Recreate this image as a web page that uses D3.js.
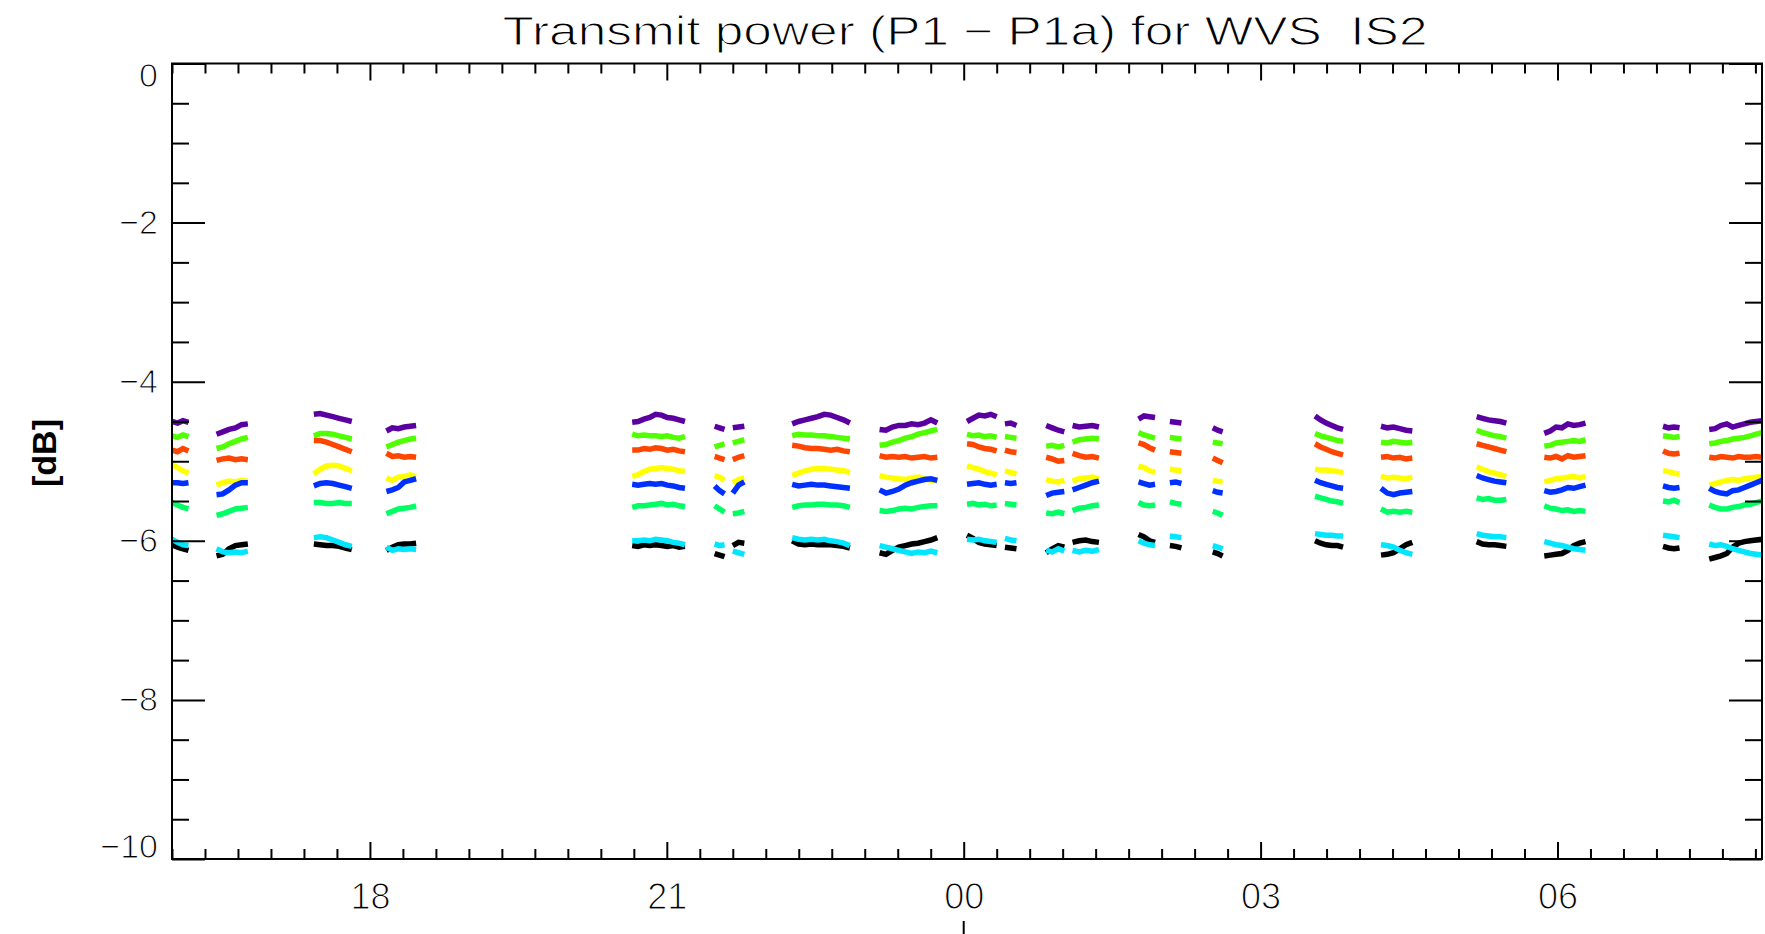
<!DOCTYPE html>
<html>
<head>
<meta charset="utf-8">
<script src="https://cdn.jsdelivr.net/npm/d3@7"></script>
<style>
  html, body { margin: 0; padding: 0; background: #fff; }
  svg { display: block; }
  text { font-family: "Liberation Sans", Arial, sans-serif; fill: #000; }
  /* a white outline painted over the glyphs gives a thin pen-plotter look */
  text.thin { stroke: #fff; stroke-width: 1.1px; }
</style>
</head>
<body>
<svg id="chart" width="1765" height="934"></svg>
<script>
// Pass boundaries (UT clock time; hours before 16 belong to the next day)
const passStart = ["16:00","16:27","17:26","18:10","20:39","21:29","21:40","22:16","23:09","00:02","00:25",
                   "00:50","01:06","01:46","02:05","02:31","03:33","04:13","05:11","05:52","07:04","07:32"];
const passEnd   = ["16:10","16:46","17:49","18:28","21:11","21:35","21:47","22:51","23:44","00:20","00:32",
                   "01:01","01:22","01:56","02:12","02:37","03:50","04:32","05:29","06:17","07:14","08:04"];

// Transmit power differences [dB], one list of samples per pass
const violet = [
  [-4.50,-4.52,-4.49,-4.51],
  [-4.66,-4.63,-4.60,-4.58,-4.54,-4.53],
  [-4.41,-4.40,-4.42,-4.44,-4.46,-4.48,-4.50],
  [-4.62,-4.58,-4.59,-4.57,-4.56,-4.55],
  [-4.51,-4.50,-4.47,-4.45,-4.41,-4.42,-4.45,-4.46,-4.48,-4.50],
  [-4.56,-4.58,-4.60],
  [-4.58,-4.57,-4.56],
  [-4.53,-4.50,-4.48,-4.46,-4.44,-4.41,-4.42,-4.45,-4.48,-4.52],
  [-4.60,-4.61,-4.57,-4.55,-4.55,-4.53,-4.54,-4.52,-4.48,-4.52],
  [-4.50,-4.46,-4.42,-4.43,-4.41,-4.44],
  [-4.53,-4.52,-4.55],
  [-4.55,-4.58,-4.61,-4.63],
  [-4.55,-4.57,-4.56,-4.55,-4.57],
  [-4.47,-4.43,-4.44,-4.45],
  [-4.50,-4.51,-4.52],
  [-4.58,-4.61,-4.63],
  [-4.43,-4.48,-4.52,-4.55,-4.58,-4.60],
  [-4.56,-4.58,-4.57,-4.59,-4.61,-4.62],
  [-4.44,-4.46,-4.48,-4.49,-4.50,-4.52],
  [-4.65,-4.62,-4.57,-4.58,-4.53,-4.55,-4.54,-4.52],
  [-4.56,-4.58,-4.57,-4.58],
  [-4.60,-4.59,-4.55,-4.53,-4.57,-4.55,-4.53,-4.51,-4.50,-4.49]
];
const green = [
  [-4.68,-4.70,-4.67,-4.69],
  [-4.84,-4.82,-4.78,-4.75,-4.72,-4.70],
  [-4.68,-4.65,-4.65,-4.66,-4.68,-4.70,-4.72],
  [-4.82,-4.79,-4.76,-4.74,-4.72,-4.71],
  [-4.66,-4.68,-4.67,-4.68,-4.68,-4.69,-4.68,-4.70,-4.71,-4.69],
  [-4.82,-4.80,-4.78],
  [-4.77,-4.75,-4.73],
  [-4.68,-4.66,-4.67,-4.67,-4.68,-4.68,-4.69,-4.70,-4.71,-4.72],
  [-4.80,-4.79,-4.76,-4.74,-4.71,-4.69,-4.66,-4.64,-4.62,-4.60],
  [-4.66,-4.68,-4.67,-4.69,-4.68,-4.70],
  [-4.69,-4.70,-4.71],
  [-4.81,-4.80,-4.82,-4.80],
  [-4.76,-4.73,-4.72,-4.71,-4.72],
  [-4.64,-4.67,-4.69,-4.71],
  [-4.70,-4.71,-4.72],
  [-4.76,-4.77,-4.78],
  [-4.65,-4.68,-4.70,-4.72,-4.74,-4.75],
  [-4.76,-4.77,-4.75,-4.76,-4.77,-4.76],
  [-4.61,-4.64,-4.66,-4.68,-4.69,-4.71],
  [-4.81,-4.80,-4.77,-4.76,-4.75,-4.74,-4.75,-4.73],
  [-4.68,-4.69,-4.70,-4.69],
  [-4.78,-4.77,-4.75,-4.74,-4.72,-4.71,-4.70,-4.68,-4.66,-4.64]
];
const orange = [
  [-4.86,-4.88,-4.84,-4.87],
  [-4.99,-4.97,-4.96,-4.98,-4.97,-4.98],
  [-4.74,-4.74,-4.76,-4.79,-4.82,-4.85,-4.88],
  [-4.90,-4.94,-4.93,-4.95,-4.94,-4.95],
  [-4.86,-4.86,-4.84,-4.85,-4.83,-4.84,-4.86,-4.85,-4.87,-4.88],
  [-4.94,-4.96,-4.98],
  [-4.98,-4.95,-4.93],
  [-4.80,-4.81,-4.83,-4.84,-4.84,-4.85,-4.86,-4.85,-4.87,-4.88],
  [-4.93,-4.95,-4.94,-4.95,-4.94,-4.96,-4.95,-4.94,-4.96,-4.95],
  [-4.78,-4.79,-4.82,-4.84,-4.85,-4.87],
  [-4.86,-4.88,-4.89],
  [-4.95,-4.97,-5.00,-4.99],
  [-4.90,-4.93,-4.95,-4.94,-4.96],
  [-4.77,-4.79,-4.83,-4.86],
  [-4.88,-4.89,-4.90],
  [-4.96,-4.99,-5.02],
  [-4.78,-4.82,-4.85,-4.88,-4.90,-4.92],
  [-4.95,-4.94,-4.96,-4.95,-4.97,-4.96],
  [-4.78,-4.80,-4.82,-4.84,-4.86,-4.88],
  [-4.95,-4.96,-4.94,-4.97,-4.93,-4.95,-4.94,-4.93],
  [-4.87,-4.90,-4.91,-4.90],
  [-4.95,-4.96,-4.94,-4.95,-4.96,-4.94,-4.95,-4.95,-4.94,-4.95]
];
const yellow = [
  [-5.04,-5.08,-5.12,-5.15],
  [-5.30,-5.27,-5.25,-5.26,-5.24,-5.25],
  [-5.16,-5.10,-5.06,-5.05,-5.06,-5.09,-5.12],
  [-5.21,-5.24,-5.20,-5.19,-5.17,-5.19],
  [-5.19,-5.17,-5.13,-5.10,-5.09,-5.08,-5.09,-5.10,-5.12,-5.13],
  [-5.18,-5.20,-5.24],
  [-5.27,-5.23,-5.21],
  [-5.18,-5.15,-5.12,-5.10,-5.09,-5.09,-5.10,-5.11,-5.12,-5.14],
  [-5.18,-5.20,-5.21,-5.22,-5.23,-5.21,-5.20,-5.22,-5.24,-5.25],
  [-5.06,-5.08,-5.10,-5.13,-5.15,-5.17],
  [-5.12,-5.14,-5.16],
  [-5.23,-5.25,-5.26,-5.24],
  [-5.25,-5.22,-5.21,-5.20,-5.22],
  [-5.06,-5.08,-5.12,-5.14],
  [-5.10,-5.11,-5.12],
  [-5.24,-5.25,-5.26],
  [-5.10,-5.11,-5.11,-5.12,-5.13,-5.14],
  [-5.19,-5.21,-5.20,-5.21,-5.22,-5.20],
  [-5.07,-5.10,-5.13,-5.15,-5.17,-5.19],
  [-5.26,-5.24,-5.22,-5.21,-5.20,-5.19,-5.21,-5.19],
  [-5.12,-5.13,-5.15,-5.16],
  [-5.30,-5.28,-5.26,-5.24,-5.23,-5.24,-5.22,-5.21,-5.20,-5.19]
];
const blue = [
  [-5.27,-5.27,-5.28,-5.27],
  [-5.42,-5.41,-5.36,-5.30,-5.27,-5.27],
  [-5.31,-5.28,-5.27,-5.28,-5.30,-5.32,-5.34],
  [-5.38,-5.36,-5.33,-5.26,-5.24,-5.22],
  [-5.29,-5.30,-5.29,-5.28,-5.29,-5.28,-5.30,-5.31,-5.33,-5.34],
  [-5.31,-5.37,-5.41],
  [-5.40,-5.30,-5.26],
  [-5.29,-5.31,-5.30,-5.29,-5.30,-5.30,-5.31,-5.32,-5.33,-5.34],
  [-5.36,-5.40,-5.38,-5.35,-5.30,-5.27,-5.25,-5.23,-5.22,-5.24],
  [-5.29,-5.28,-5.27,-5.29,-5.30,-5.29],
  [-5.27,-5.28,-5.27],
  [-5.43,-5.40,-5.39,-5.38],
  [-5.36,-5.33,-5.30,-5.27,-5.25],
  [-5.26,-5.28,-5.30,-5.29],
  [-5.27,-5.26,-5.28],
  [-5.37,-5.39,-5.40],
  [-5.24,-5.27,-5.29,-5.31,-5.33,-5.34],
  [-5.34,-5.40,-5.42,-5.40,-5.39,-5.38],
  [-5.18,-5.21,-5.23,-5.25,-5.26,-5.27],
  [-5.37,-5.39,-5.38,-5.36,-5.33,-5.34,-5.32,-5.30],
  [-5.31,-5.33,-5.34,-5.33],
  [-5.34,-5.38,-5.40,-5.41,-5.37,-5.36,-5.33,-5.30,-5.27,-5.24]
];
const springGreen = [
  [-5.52,-5.55,-5.58,-5.60],
  [-5.68,-5.66,-5.63,-5.60,-5.59,-5.58],
  [-5.52,-5.52,-5.53,-5.53,-5.52,-5.53,-5.53],
  [-5.66,-5.63,-5.60,-5.59,-5.58,-5.56],
  [-5.58,-5.56,-5.56,-5.55,-5.54,-5.53,-5.55,-5.54,-5.56,-5.57],
  [-5.56,-5.60,-5.64],
  [-5.66,-5.65,-5.63],
  [-5.58,-5.56,-5.55,-5.55,-5.54,-5.54,-5.55,-5.55,-5.56,-5.58],
  [-5.62,-5.63,-5.62,-5.60,-5.59,-5.60,-5.58,-5.57,-5.56,-5.56],
  [-5.54,-5.53,-5.55,-5.54,-5.56,-5.55],
  [-5.53,-5.54,-5.55],
  [-5.65,-5.66,-5.64,-5.66],
  [-5.62,-5.59,-5.58,-5.56,-5.55],
  [-5.52,-5.55,-5.56,-5.55],
  [-5.51,-5.53,-5.54],
  [-5.63,-5.65,-5.68],
  [-5.44,-5.46,-5.48,-5.50,-5.51,-5.53],
  [-5.60,-5.64,-5.63,-5.64,-5.63,-5.64],
  [-5.46,-5.48,-5.47,-5.49,-5.49,-5.48],
  [-5.56,-5.59,-5.60,-5.62,-5.61,-5.63,-5.62,-5.63],
  [-5.50,-5.51,-5.49,-5.52],
  [-5.55,-5.58,-5.60,-5.60,-5.58,-5.57,-5.55,-5.54,-5.52,-5.50]
];
const black = [
  [-6.05,-6.08,-6.10,-6.12],
  [-6.19,-6.17,-6.10,-6.06,-6.05,-6.04],
  [-6.04,-6.05,-6.06,-6.06,-6.07,-6.09,-6.11],
  [-6.12,-6.08,-6.05,-6.04,-6.04,-6.03],
  [-6.06,-6.07,-6.05,-6.06,-6.05,-6.06,-6.07,-6.06,-6.08,-6.07],
  [-6.16,-6.18,-6.20],
  [-6.06,-6.02,-6.03],
  [-6.00,-6.04,-6.05,-6.04,-6.05,-6.05,-6.05,-6.06,-6.07,-6.09],
  [-6.15,-6.17,-6.12,-6.08,-6.06,-6.04,-6.03,-6.01,-5.99,-5.96],
  [-5.93,-5.97,-6.02,-6.04,-6.05,-6.06],
  [-6.08,-6.09,-6.10],
  [-6.15,-6.10,-6.06,-6.08],
  [-6.02,-6.00,-5.99,-6.01,-6.02],
  [-5.92,-5.95,-6.00,-6.02],
  [-6.06,-6.07,-6.09],
  [-6.14,-6.16,-6.19],
  [-6.00,-6.03,-6.05,-6.06,-6.06,-6.08],
  [-6.18,-6.17,-6.15,-6.10,-6.05,-6.02],
  [-6.01,-6.04,-6.05,-6.05,-6.06,-6.07],
  [-6.19,-6.18,-6.17,-6.16,-6.12,-6.06,-6.03,-6.01],
  [-6.07,-6.09,-6.10,-6.09],
  [-6.23,-6.21,-6.19,-6.16,-6.08,-6.03,-6.01,-6.00,-5.99,-5.98]
];
const cyan = [
  [-5.98,-6.02,-6.05,-6.06],
  [-6.10,-6.14,-6.15,-6.14,-6.15,-6.13],
  [-5.96,-5.95,-5.96,-5.99,-6.02,-6.05,-6.07],
  [-6.08,-6.12,-6.10,-6.11,-6.10,-6.11],
  [-6.00,-6.00,-5.99,-6.00,-5.98,-5.99,-6.00,-6.02,-6.03,-6.05],
  [-6.04,-6.06,-6.05],
  [-6.13,-6.15,-6.17],
  [-5.96,-5.98,-5.99,-5.98,-5.99,-5.98,-6.00,-6.01,-6.03,-6.06],
  [-6.06,-6.08,-6.10,-6.12,-6.14,-6.16,-6.14,-6.15,-6.13,-6.15],
  [-5.98,-5.99,-5.98,-6.00,-6.01,-6.02],
  [-5.97,-5.99,-6.00],
  [-6.12,-6.14,-6.10,-6.13],
  [-6.12,-6.14,-6.12,-6.13,-6.11],
  [-6.00,-6.03,-6.05,-6.06],
  [-5.94,-5.95,-5.96],
  [-6.06,-6.08,-6.10],
  [-5.91,-5.92,-5.93,-5.93,-5.94,-5.94],
  [-6.05,-6.06,-6.08,-6.12,-6.15,-6.17],
  [-5.91,-5.93,-5.94,-5.95,-5.95,-5.96],
  [-6.01,-6.03,-6.05,-6.06,-6.08,-6.10,-6.11,-6.12],
  [-5.93,-5.94,-5.95,-5.96],
  [-6.04,-6.06,-6.05,-6.07,-6.10,-6.12,-6.14,-6.16,-6.17,-6.18]
];

const yTickValues = [0, -2, -4, -6, -8, -10];
const titleText = "Transmit power (P1 \u2212 P1a) for WVS  IS2";
const yLabelText = "[dB]";

// drawing order and colours
const series = [
  { values: violet,      color: "#5a00a0" },
  { values: green,       color: "#50ff00" },
  { values: orange,      color: "#ff4600" },
  { values: yellow,      color: "#ffff00" },
  { values: blue,        color: "#0030ff" },
  { values: springGreen, color: "#00ff64" },
  { values: black,       color: "#000000" },
  { values: cyan,        color: "#00e6ff" }
];

const box = { left: 172, right: 1762, top: 63.5, bottom: 859 };
const day0 = Date.UTC(2000, 0, 1);
function clock(s) {
  const [h, m] = s.split(":").map(Number);
  const d = h < 16 ? 1 : 0;
  return new Date(day0 + ((d * 24 + h) * 60 + m) * 60000);
}

const x = d3.scaleUtc().domain([clock("16:00"), clock("08:04")]).range([box.left, box.right]);
const y = d3.scaleLinear().domain([0, -10]).range([box.top, box.bottom]);

const svg = d3.select("#chart");

svg.append("defs").append("clipPath").attr("id", "plotArea")
  .append("rect")
  .attr("x", box.left).attr("y", box.top)
  .attr("width", box.right - box.left).attr("height", box.bottom - box.top);

// data traces
const line = d3.line().x(d => x(d.t)).y(d => y(d.v));
const traces = svg.append("g").attr("clip-path", "url(#plotArea)");
series.forEach(s => {
  s.values.forEach((vals, p) => {
    const t0 = clock(passStart[p]).getTime();
    const t1 = clock(passEnd[p]).getTime();
    const n = vals.length;
    const pts = vals.map((v, i) => ({ t: new Date(t0 + i * (t1 - t0) / (n - 1)), v }));
    traces.append("path")
      .attr("d", line(pts))
      .attr("fill", "none")
      .attr("stroke", s.color)
      .attr("stroke-width", 5.5)
      .attr("stroke-linejoin", "miter");
  });
});

// axes
const majorX = x.ticks(d3.utcHour.every(3));
const minorX = x.ticks(d3.utcMinute.every(20)).filter(d => !majorX.some(m => +m === +d));
const minorY = d3.range(0, -10.001, -0.5).filter(v => !yTickValues.includes(v));

function styleAxis(g) {
  g.select(".domain").remove();
  g.selectAll(".tick line").attr("stroke", "#000").attr("stroke-width", 2);
}

// bottom
svg.append("g").attr("transform", `translate(0,${box.bottom})`)
  .call(d3.axisBottom(x).tickValues(minorX).tickSize(-10).tickFormat(""))
  .call(styleAxis);
const xb = svg.append("g").attr("transform", `translate(0,${box.bottom})`)
  .call(d3.axisBottom(x).tickValues(majorX).tickSize(-17).tickPadding(24).tickFormat(d3.utcFormat("%H")))
  .call(styleAxis);
xb.selectAll("text").attr("class", "thin").attr("font-size", 36)
  .attr("font-family", "Liberation Sans, Arial, sans-serif").attr("fill", "#000");

// top
svg.append("g").attr("transform", `translate(0,${box.top})`)
  .call(d3.axisTop(x).tickValues(minorX).tickSize(-10).tickFormat(""))
  .call(styleAxis);
svg.append("g").attr("transform", `translate(0,${box.top})`)
  .call(d3.axisTop(x).tickValues(majorX).tickSize(-17).tickFormat(""))
  .call(styleAxis);

// left
svg.append("g").attr("transform", `translate(${box.left},0)`)
  .call(d3.axisLeft(y).tickValues(minorY).tickSize(-17).tickFormat(""))
  .call(styleAxis);
const yl = svg.append("g").attr("transform", `translate(${box.left},0)`)
  .call(d3.axisLeft(y).tickValues(yTickValues).tickSize(-33).tickPadding(14)
    .tickFormat(d => d === 0 ? "0" : "\u2212" + Math.abs(d)))
  .call(styleAxis);
yl.selectAll("text").attr("class", "thin").attr("font-size", 34)
  .attr("font-family", "Liberation Sans, Arial, sans-serif").attr("fill", "#000")
  .attr("y", d => d === 0 ? 12 : (d === -10 ? -12 : 0));

// right
svg.append("g").attr("transform", `translate(${box.right},0)`)
  .call(d3.axisRight(y).tickValues(minorY).tickSize(-17).tickFormat(""))
  .call(styleAxis);
svg.append("g").attr("transform", `translate(${box.right},0)`)
  .call(d3.axisRight(y).tickValues(yTickValues).tickSize(-33).tickFormat(""))
  .call(styleAxis);

// frame
svg.append("rect")
  .attr("x", box.left).attr("y", box.top)
  .attr("width", box.right - box.left).attr("height", box.bottom - box.top)
  .attr("fill", "none").attr("stroke", "#000").attr("stroke-width", 2);

// date-axis stub under midnight
svg.append("line")
  .attr("x1", x(clock("00:00"))).attr("x2", x(clock("00:00")))
  .attr("y1", 921).attr("y2", 934)
  .attr("stroke", "#000").attr("stroke-width", 2);

// title
svg.append("text")
  .attr("class", "thin")
  .attr("x", 965).attr("y", 45)
  .attr("text-anchor", "middle")
  .attr("font-size", 41)
  .attr("textLength", 925).attr("lengthAdjust", "spacingAndGlyphs")
  .style("white-space", "pre")
  .text(titleText);

// y label
svg.append("text")
  .attr("transform", "translate(56,453) rotate(-90)")
  .attr("text-anchor", "middle")
  .attr("font-size", 34)
  .attr("font-weight", "bold")
  .text(yLabelText);
</script>
</body>
</html>
